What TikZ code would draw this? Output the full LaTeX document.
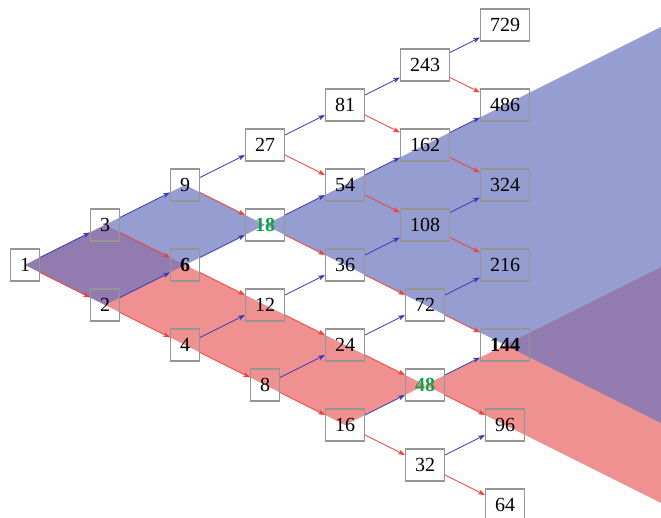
\documentclass[tikz,border=0pt]{standalone}
\usepackage{fontspec}
\setmainfont{Liberation Serif}
\usetikzlibrary{arrows.meta,backgrounds}
\definecolor{bluefill}{RGB}{105,115,188}
\definecolor{redfill}{RGB}{240,145,145}
\definecolor{bluearr}{RGB}{55,55,185}
\definecolor{redarr}{RGB}{245,60,50}
\definecolor{boxgray}{RGB}{150,150,150}
\definecolor{greentxt}{RGB}{20,160,70}
\begin{document}
\begin{tikzpicture}[x=1pt,y=-1pt,
  numbox/.style={draw=boxgray, line width=1.2pt, inner xsep=9.5pt, inner ysep=0pt,
    minimum height=32pt, font=\fontsize{20}{24}\selectfont},
  keynum/.style={numbox, font=\fontsize{20}{24}\selectfont\bfseries},
  meetnum/.style={keynum, text=greentxt},
  uparr/.style={draw=bluearr, line width=0.8pt, -{Stealth[length=7pt,width=5pt]}},
  downarr/.style={draw=redarr, line width=0.8pt, -{Stealth[length=7pt,width=5pt]}}]
\useasboundingbox (0,0) rectangle (661,518);
% column 0
\node[numbox] (n1) at (25,265) {1};
% column 1
\node[numbox] (n3) at (105,225) {3};
\node[numbox] (n2) at (105,305) {2};
% column 2
\node[numbox] (n9) at (185,185) {9};
\node[keynum] (n6) at (185,265) {6};
\node[numbox] (n4) at (185,345) {4};
% column 3
\node[numbox] (n27) at (265,145) {27};
\node[meetnum] (n18) at (265,225) {18};
\node[numbox] (n12) at (265,305) {12};
\node[numbox] (n8) at (265,385) {8};
% column 4
\node[numbox] (n81) at (345,105) {81};
\node[numbox] (n54) at (345,185) {54};
\node[numbox] (n36) at (345,265) {36};
\node[numbox] (n24) at (345,345) {24};
\node[numbox] (n16) at (345,425) {16};
% column 5
\node[numbox] (n243) at (425,65) {243};
\node[numbox] (n162) at (425,145) {162};
\node[numbox] (n108) at (425,225) {108};
\node[numbox] (n72) at (425,305) {72};
\node[meetnum] (n48) at (425,385) {48};
\node[numbox] (n32) at (425,465) {32};
% column 6
\node[numbox] (n729) at (505,25) {729};
\node[numbox] (n486) at (505,105) {486};
\node[numbox] (n324) at (505,185) {324};
\node[numbox] (n216) at (505,265) {216};
\node[keynum] (n144) at (505,345) {144};
\node[numbox] (n96) at (505,425) {96};
\node[numbox] (n64) at (505,505) {64};
% arrows: times 3 (blue, up), times 2 (red, down)
\foreach \s/\t in {1/3, 3/9, 2/6, 9/27, 6/18, 4/12, 27/81, 18/54, 12/36, 8/24,
  81/243, 54/162, 36/108, 24/72, 16/48, 243/729, 162/486, 108/324, 72/216, 48/144, 32/96}
  \draw[uparr] (n\s) -- (n\t);
\foreach \s/\t in {1/2, 3/6, 2/4, 9/18, 6/12, 4/8, 27/54, 18/36, 12/24, 8/16,
  81/162, 54/108, 36/72, 24/48, 16/32, 243/486, 162/324, 108/216, 72/144, 48/96, 32/64}
  \draw[downarr] (n\s) -- (n\t);
% shaded regions
\begin{scope}[on background layer]
  \clip (0,0) rectangle (661,518);
  \fill[redfill] (n1.center) -- (n3.center) -- (n48.center) -- ++(275,-137.5)
    -- ++(0,275) -- (n48.center) -- (n16.center) -- cycle;
  \fill[bluefill, fill opacity=0.7] (n1.center) -- (n9.center) -- (n18.center)
    -- ++(435,-217.5) -- ++(0,435) -- (n18.center) -- (n2.center) -- cycle;
\end{scope}
\end{tikzpicture}
\end{document}
